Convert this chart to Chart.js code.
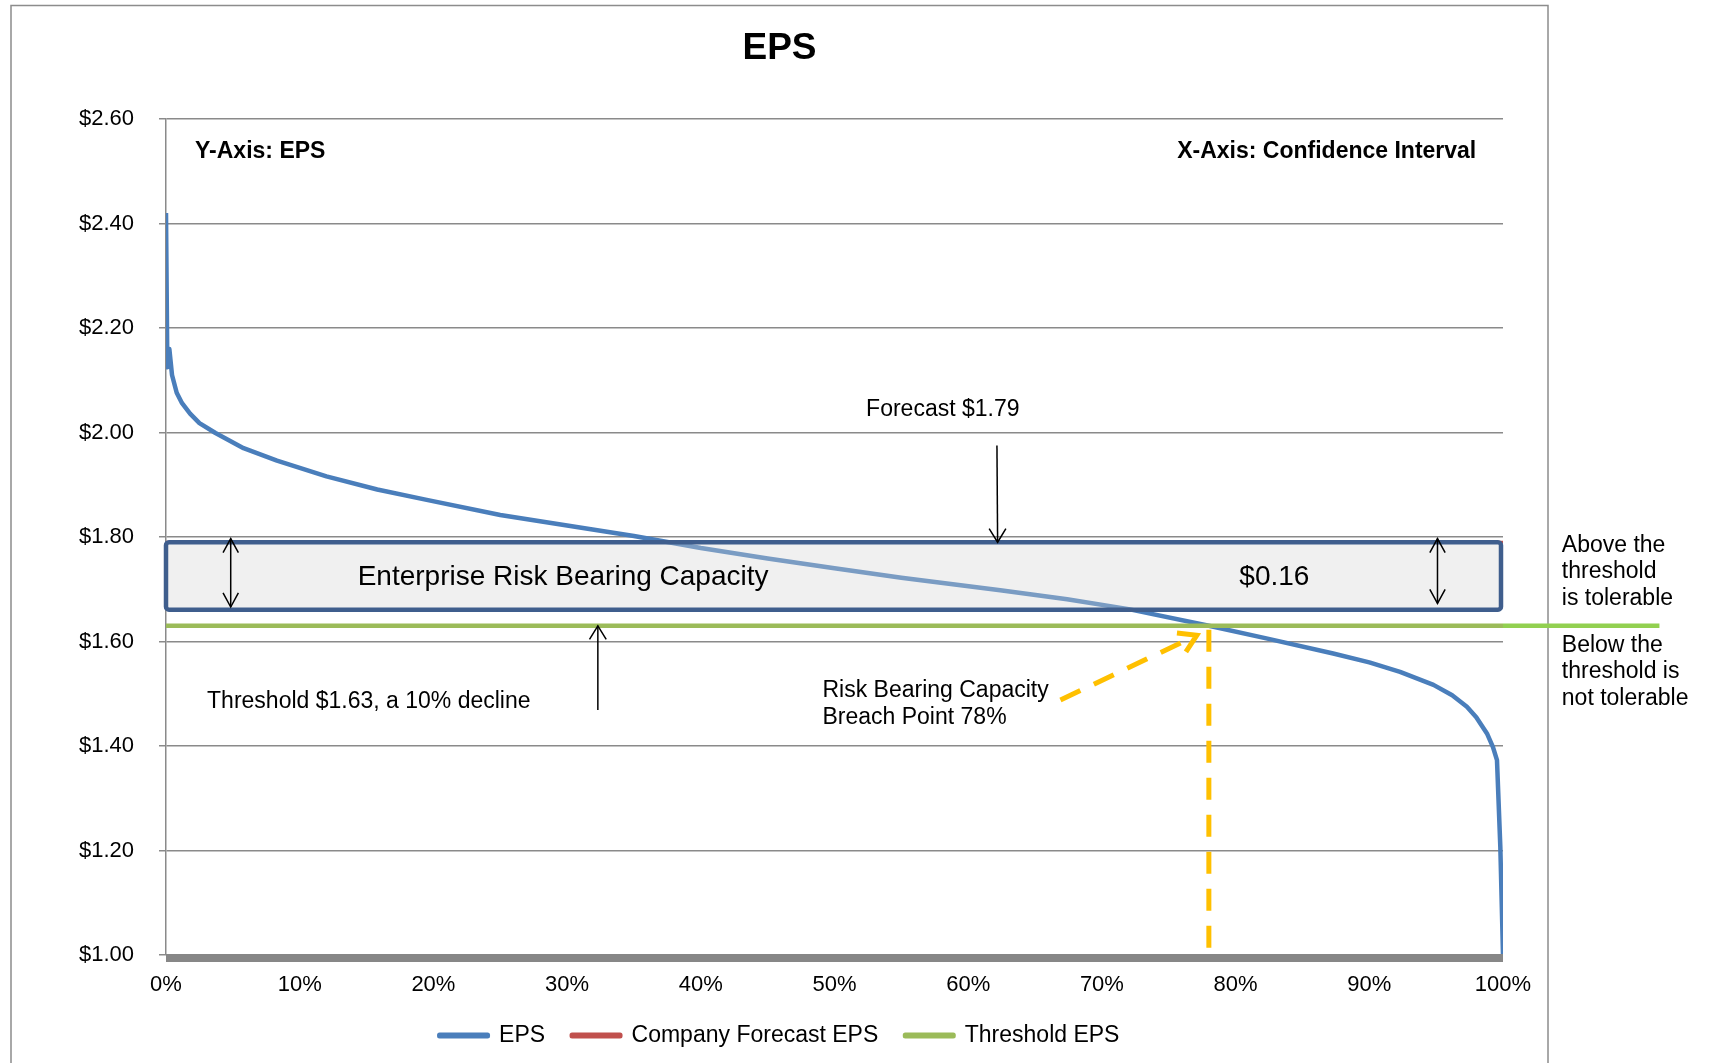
<!DOCTYPE html>
<html>
<head>
<meta charset="utf-8">
<title>EPS</title>
<script src="https://cdn.jsdelivr.net/npm/chart.js@4.4.1/dist/chart.umd.min.js"></script>
<style>
  html, body { margin: 0; padding: 0; background: #fff; }
  #wrap { width: 1710px; height: 1063px; position: relative; }
</style>
</head>
<body>
<div id="wrap"><canvas id="epsChart"></canvas></div>
<script>
// confidence level (%) and EPS
const confidence = [0, 0.1, 0.25, 0.45, 0.8, 1.2, 1.8, 2.5, 3.7, 5.8, 8.3, 12, 15.8, 19.5, 25, 30, 35, 40, 45, 50, 55,
  62.4, 67.4, 72, 78, 82.3, 87.3, 90, 92.3, 94.8, 96.2, 97.3, 98.0, 98.8, 99.25, 99.55, 99.8, 100];
const epsValues = [2.42, 2.125, 2.16, 2.11, 2.076, 2.056, 2.036, 2.018, 1.999, 1.970, 1.946, 1.916, 1.891, 1.871, 1.842, 1.822, 1.802, 1.779, 1.759, 1.740, 1.722,
  1.698, 1.681, 1.662, 1.630, 1.606, 1.577, 1.560, 1.542, 1.517, 1.497, 1.475, 1.455, 1.424, 1.398, 1.373, 1.207, 1.00];

const forecastEps = 1.79;
const thresholdEps = 1.63;
const capacityLow = 1.661;   // bottom edge of the shaded capacity band
const breachPoint = 78;      // % where EPS falls through the threshold

const xTicks = [0, 10, 20, 30, 40, 50, 60, 70, 80, 90, 100];
const yTicks = [1.0, 1.2, 1.4, 1.6, 1.8, 2.0, 2.2, 2.4, 2.6];

const FONT = '"Liberation Sans", Arial, sans-serif';
Chart.defaults.font.family = FONT;
Chart.defaults.color = '#000';

function seg(ctx, x1, y1, x2, y2) {
    ctx.beginPath();
    ctx.moveTo(x1, y1);
    ctx.lineTo(x2, y2);
    ctx.stroke();
}

function head(ctx, x1, y1, x2, y2, len, ang) {
    const t = Math.atan2(y2 - y1, x2 - x1);
    ctx.beginPath();
    ctx.moveTo(x2 - len * Math.cos(t - ang), y2 - len * Math.sin(t - ang));
    ctx.lineTo(x2, y2);
    ctx.lineTo(x2 - len * Math.cos(t + ang), y2 - len * Math.sin(t + ang));
    ctx.stroke();
}

function label(ctx, str, px, py, font, align) {
    ctx.font = font;
    ctx.textAlign = align || 'left';
    ctx.textBaseline = 'middle';
    ctx.fillStyle = '#000';
    ctx.fillText(str, px, py);
}

const overlay = {
    id: 'overlay',
    beforeDraw(chart) {
        const ctx = chart.ctx;
        ctx.save();
        ctx.fillStyle = '#fff';
        ctx.fillRect(0, 0, chart.width, chart.height);
        ctx.restore();
    },
    afterDatasetsDraw(chart) {
        const {ctx, chartArea: a, scales: {x, y}} = chart;
        const X = v => x.getPixelForValue(v);
        const Y = v => y.getPixelForValue(v);
        const f23 = '23px ' + FONT;
        const b23 = 'bold 23px ' + FONT;
        const f28 = '28px ' + FONT;
        ctx.save();

        // outer frame
        ctx.strokeStyle = '#8c8c8c';
        ctx.lineWidth = 1.5;
        ctx.strokeRect(11, 5.5, 1537, 1100);

        // heavy base line at $1.00
        ctx.fillStyle = '#878787';
        ctx.fillRect(a.left, a.bottom - 1, a.right - a.left, 8);

        // threshold carried on past the plot
        ctx.strokeStyle = '#92D050';
        ctx.lineWidth = 4.5;
        seg(ctx, a.right, Y(thresholdEps), X(111.7), Y(thresholdEps));

        // capacity band
        ctx.beginPath();
        ctx.roundRect(X(0), Y(forecastEps), X(99.85) - X(0), Y(capacityLow) - Y(forecastEps), 3);
        ctx.fillStyle = 'rgba(212,212,212,0.35)';
        ctx.fill();
        ctx.strokeStyle = '#3F5E8D';
        ctx.lineWidth = 4.5;
        ctx.stroke();

        // black arrows
        ctx.strokeStyle = '#000';
        ctx.lineWidth = 1.5;
        const dbl = (px, top, bot) => {
            seg(ctx, px, top, px, bot);
            head(ctx, px, bot, px, top, 16, 0.5);
            head(ctx, px, top, px, bot, 16, 0.5);
        };
        dbl(X(4.84), Y(1.797), Y(1.666));
        dbl(X(95.1), Y(1.797), Y(1.673));
        seg(ctx, X(62.15), Y(1.975), X(62.2), Y(forecastEps));
        head(ctx, X(62.15), Y(1.975), X(62.2), Y(forecastEps), 16, 0.55);
        seg(ctx, X(32.3), Y(1.469), X(32.3), Y(thresholdEps));
        head(ctx, X(32.3), Y(1.469), X(32.3), Y(thresholdEps), 16, 0.55);

        // breach point markers
        ctx.strokeStyle = '#FFC000';
        ctx.lineWidth = 5;
        ctx.setLineDash([22, 15]);
        seg(ctx, X(breachPoint), Y(thresholdEps) + 4, X(breachPoint), Y(1.01));
        seg(ctx, X(66.9), Y(1.488), X(77.1), Y(1.612));
        ctx.setLineDash([]);
        head(ctx, X(66.9), Y(1.488), X(77.1), Y(1.612), 20, 0.55);

        // texts
        label(ctx, 'Y-Axis: EPS', X(2.17), Y(2.537), b23, 'left');
        label(ctx, 'X-Axis: Confidence Interval', X(98.0), Y(2.537), b23, 'right');
        label(ctx, 'Forecast $1.79', X(58.1), Y(2.043), f23, 'center');
        label(ctx, 'Enterprise Risk Bearing Capacity', X(29.7), Y(1.7235), f28, 'center');
        label(ctx, '$0.16', X(82.9), Y(1.7235), f28, 'center');
        label(ctx, 'Threshold $1.63, a 10% decline', X(3.07), Y(1.484), f23, 'left');
        label(ctx, 'Risk Bearing Capacity', X(49.1), Y(1.505), f23, 'left');
        label(ctx, 'Breach Point 78%', X(49.1), Y(1.454), f23, 'left');

        const ty = Y(thresholdEps);
        const nx = X(104.4);
        ['Above the', 'threshold', 'is tolerable'].forEach((s, i) => label(ctx, s, nx, ty - 80 + i * 26.2, f23, 'left'));
        ['Below the', 'threshold is', 'not tolerable'].forEach((s, i) => label(ctx, s, nx, ty + 20 + i * 26.2, f23, 'left'));

        ctx.restore();
    }
};

const ctx = document.getElementById('epsChart').getContext('2d');
new Chart(ctx, {
    type: 'line',
    data: {
        datasets: [{
            label: 'EPS',
            data: confidence.map((c, i) => ({x: c, y: epsValues[i]})),
            borderColor: '#4A7EBB',
            backgroundColor: '#4A7EBB',
            borderWidth: 4.5,
            pointRadius: 0,
            tension: 0,
            borderJoinStyle: 'round',
            order: 2
        }, {
            label: 'Company Forecast EPS',
            data: [{x: 0, y: forecastEps}, {x: 100, y: forecastEps}],
            borderColor: '#C0504D',
            backgroundColor: '#C0504D',
            borderWidth: 3,
            pointRadius: 0,
            order: 1
        }, {
            label: 'Threshold EPS',
            data: [{x: 0, y: thresholdEps}, {x: 100, y: thresholdEps}],
            borderColor: '#9BBB59',
            backgroundColor: '#9BBB59',
            borderWidth: 4.5,
            pointRadius: 0,
            order: 0
        }]
    },
    options: {
        responsive: true,
        maintainAspectRatio: false,
        animation: false,
        layout: { padding: { left: 11, right: 162, top: 0, bottom: 6 } },
        plugins: {
            title: {
                display: true,
                text: 'EPS',
                font: { size: 37, weight: 'bold' },
                color: '#000',
                padding: { top: 27, bottom: 47.6 }
            },
            legend: {
                position: 'bottom',
                labels: {
                    font: { size: 23 },
                    boxWidth: 48,
                    boxHeight: 1,
                    padding: 27,
                    sort: (a, b) => a.datasetIndex - b.datasetIndex,
                    generateLabels(chart) {
                        return Chart.defaults.plugins.legend.labels.generateLabels(chart)
                            .map(l => Object.assign(l, {lineWidth: 5, fillStyle: l.strokeStyle, lineJoin: 'round'}));
                    }
                }
            },
            tooltip: { enabled: false }
        },
        scales: {
            x: {
                type: 'linear',
                min: 0,
                max: 100,
                afterBuildTicks: s => { s.ticks = xTicks.map(v => ({value: v})); },
                afterFit: s => { s.height = 42; },
                grid: { display: false, drawTicks: false },
                border: { display: false },
                ticks: { font: { size: 22 }, padding: 17, maxRotation: 0, callback: v => v + '%' }
            },
            y: {
                min: 1,
                max: 2.6,
                afterBuildTicks: s => { s.ticks = yTicks.map(v => ({value: v})); },
                afterFit: s => { s.width = 155; },
                grid: { color: '#8a8a8a', lineWidth: 1.5, tickLength: 7 },
                border: { color: '#8a8a8a', width: 1.5 },
                ticks: { font: { size: 22 }, padding: 25, callback: v => '$' + v.toFixed(2) }
            },
            yR: {
                type: 'linear',
                position: 'right',
                afterFit: s => { s.width = 45; },
                grid: { display: false },
                border: { display: false },
                ticks: { display: false }
            }
        }
    },
    plugins: [overlay]
});
</script>
</body>
</html>
